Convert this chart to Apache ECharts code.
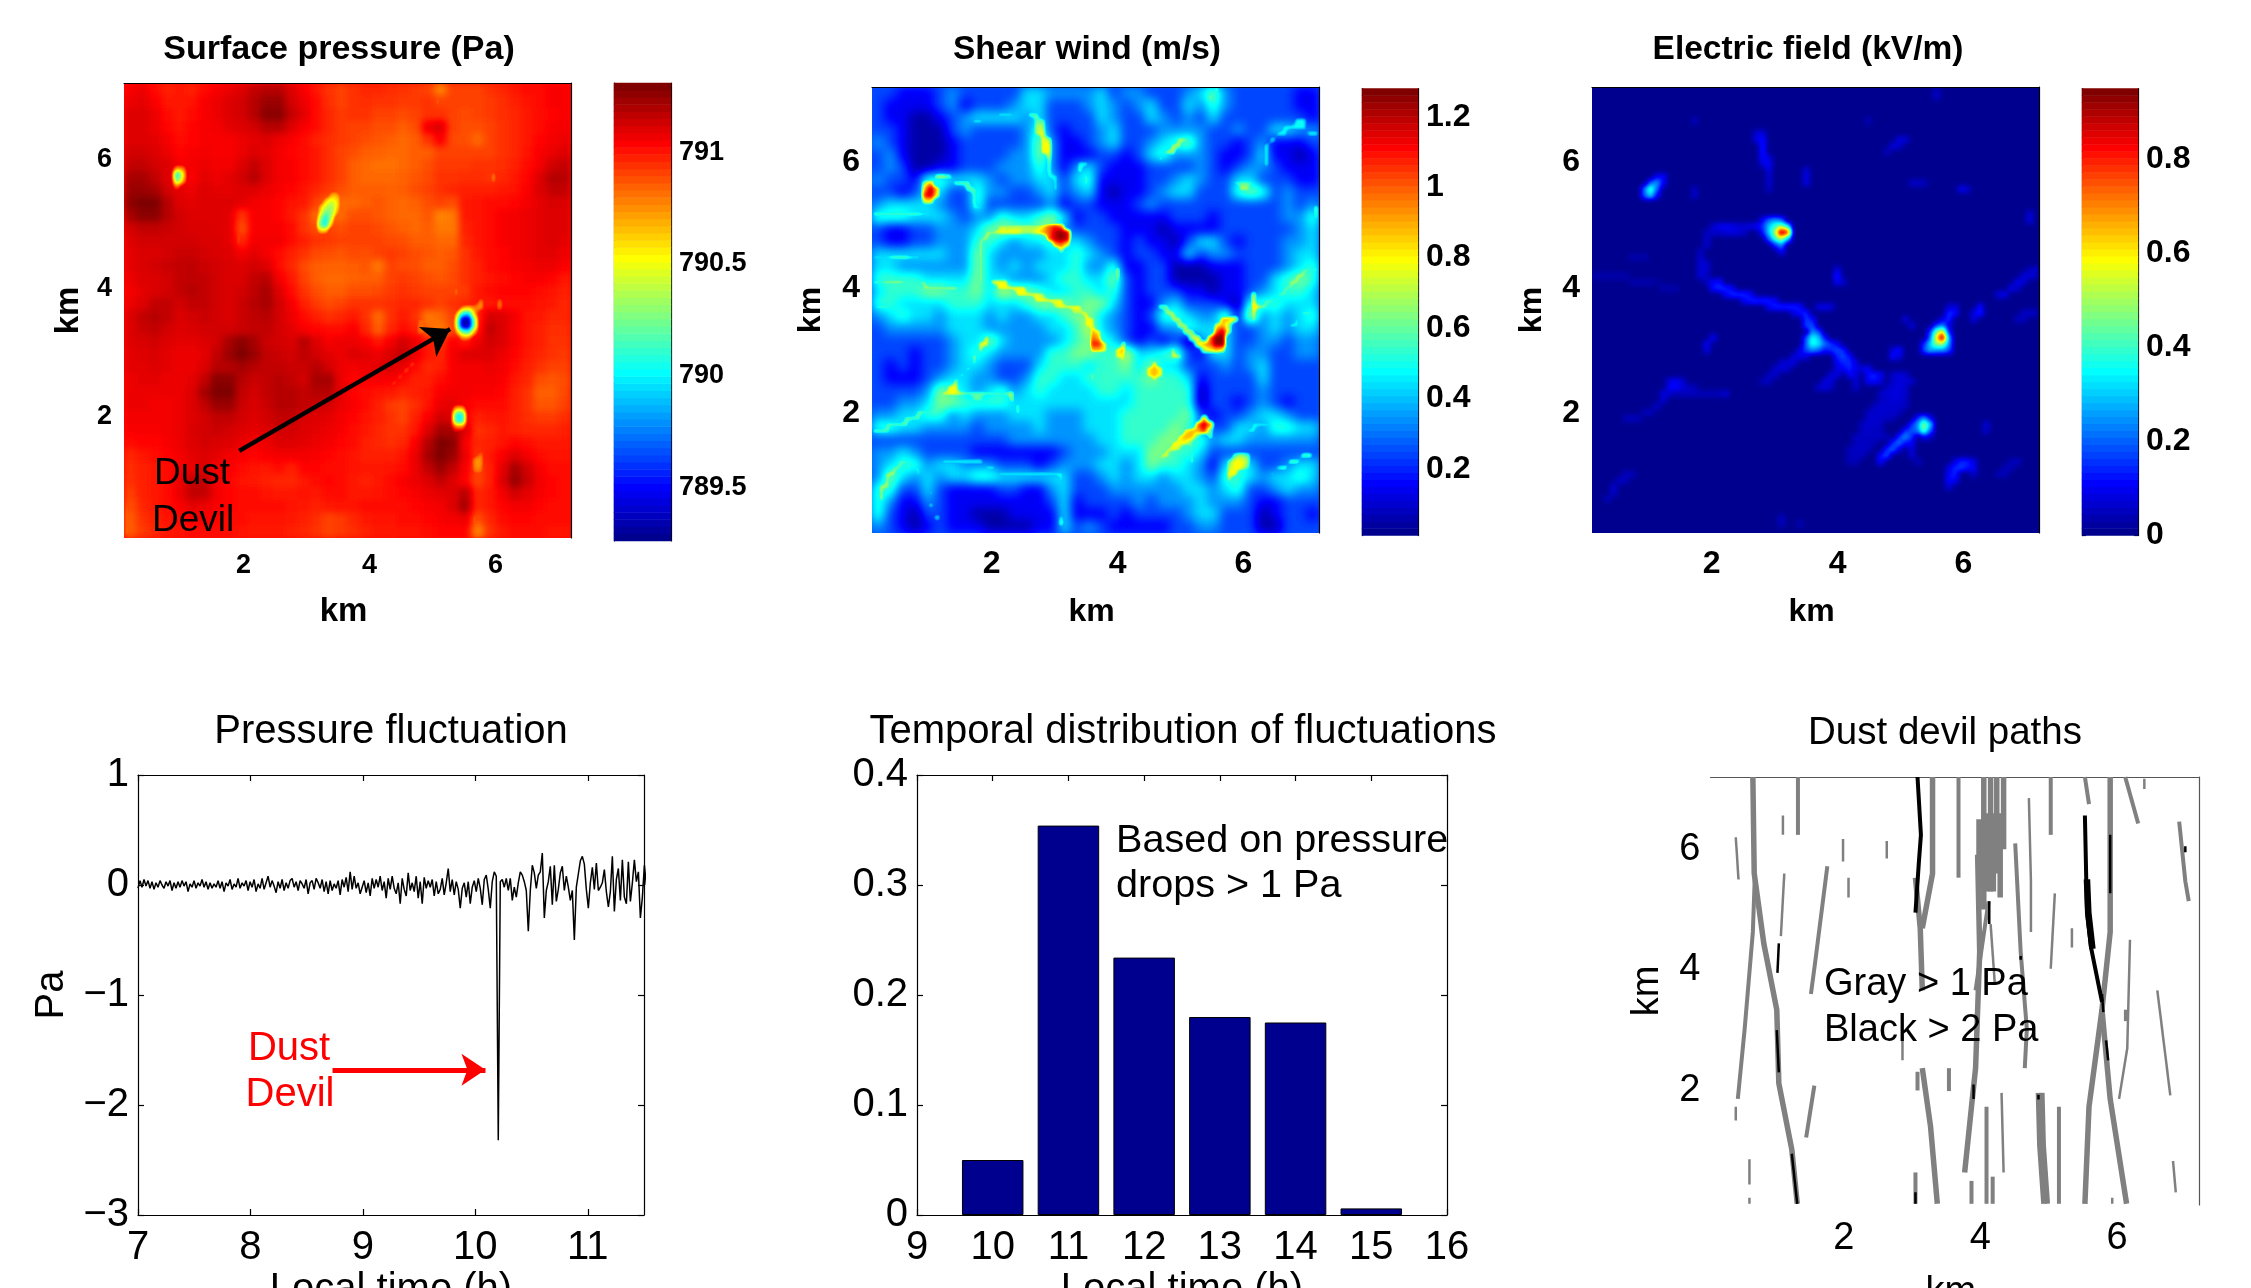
<!DOCTYPE html>
<html><head><meta charset="utf-8">
<script src="https://cdn.jsdelivr.net/npm/echarts@6/dist/echarts.min.js"></script>
<style>html,body{margin:0;background:#fff;overflow:hidden}#main{position:absolute;left:0;top:0;width:2251px;height:1288px;z-index:2}.w{position:absolute;overflow:hidden;z-index:1}.h{position:absolute}</style>
</head><body>
<svg id="fx" width="0" height="0" style="position:absolute"></svg>
<div id="main"></div>
<script>
// Surface pressure, relative readings about pressureBase (scale pressureScale Pa per unit), top row first (36 x 36)
const pressureBase = 791.03, pressureScale = 0.014;
const pressureOffset = [
[2,4,0,-3,-2,-3,0,2,4,6,10,12,12,6,2,-2,-6,-8,-6,-4,-4,-5,-6,-7,-8,-18,-8,-8,-8,-6,-4,-2,0,0,2,2],
[4,5,2,-2,-2,-1,2,4,6,8,12,16,16,8,4,0,-5,-8,-6,-5,-6,-6,-7,-7,-6,-8,-8,-8,-8,-7,-5,-3,-1,0,2,2],
[6,6,4,0,-2,0,2,4,6,8,12,18,18,10,5,0,-4,-7,-6,-6,-8,-8,-9,-8,-6,-6,-8,-9,-8,-7,-5,-4,-2,0,1,2],
[6,6,4,1,-1,1,2,3,5,6,8,12,12,6,2,0,-4,-7,-8,-8,-10,-10,-12,-10,4,6,-8,-10,-10,-8,-6,-4,-2,0,2,3],
[6,6,5,3,0,1,2,2,2,4,5,6,4,2,0,-3,-5,-7,-8,-10,-11,-12,-14,-12,-6,2,-9,-10,-14,-8,-6,-4,-2,1,3,4],
[8,8,6,4,1,2,3,2,2,4,6,5,3,1,0,-2,-5,-8,-10,-12,-13,-14,-14,-12,-12,-8,-8,-8,-8,-8,-6,-4,-1,2,4,6],
[10,10,8,6,3,3,4,3,3,6,10,6,3,2,0,-2,-5,-8,-12,-14,-15,-15,-14,-12,-10,-7,-7,-7,-6,-6,-5,-3,0,3,8,10],
[14,14,10,6,4,2,5,4,5,8,12,6,3,2,0,-2,-5,-8,-12,-14,-14,-14,-13,-11,-9,-6,-6,-5,-5,-6,-4,-2,1,6,12,12],
[16,16,14,8,5,4,6,5,5,6,6,4,2,1,-1,-4,-7,-10,-12,-12,-12,-13,-12,-10,-8,-6,-4,-3,-3,-3,-2,-1,2,6,10,10],
[18,22,20,12,6,5,6,6,6,5,3,2,1,-1,-2,-8,-14,-14,-14,-12,-11,-13,-14,-13,-10,-8,-10,-2,-1,0,0,1,3,5,7,7],
[14,18,18,12,8,6,6,6,5,-6,2,2,1,-2,-6,-14,-14,-14,-10,-10,-11,-13,-14,-14,-11,-18,-16,-2,-1,0,2,3,4,5,6,6],
[8,10,10,9,8,7,7,6,5,-10,2,2,2,0,-6,-10,-8,-10,-8,-8,-9,-11,-13,-14,-12,-16,-16,-3,-1,0,2,3,4,5,6,6],
[6,8,8,8,8,8,7,7,5,-4,3,3,3,0,-3,-6,-7,-8,-8,-8,-8,-9,-10,-12,-12,-14,-14,-4,-1,0,2,3,4,5,6,5],
[5,7,7,8,9,9,8,7,6,3,5,3,0,-3,-6,-9,-10,-11,-9,-10,-8,-7,-8,-10,-11,-12,-11,-6,-2,0,1,3,4,5,5,4],
[5,7,8,9,10,11,9,8,7,6,8,6,0,-4,-9,-12,-13,-13,-12,-11,-16,-8,-9,-10,-12,-12,-10,-6,-3,0,1,2,3,4,4,2],
[4,6,7,8,10,11,10,8,7,7,10,12,3,-2,-8,-12,-14,-14,-13,-12,-12,-8,-7,-8,-10,-11,-9,-6,-3,-1,0,1,2,2,1,-2],
[3,5,7,8,10,12,10,8,7,8,11,14,6,0,-6,-10,-12,-12,-10,-10,-9,-7,-6,-7,-8,-8,-8,-7,-2,0,1,1,1,0,-1,-3],
[4,6,10,10,8,10,10,8,7,9,12,14,8,3,-3,-7,-9,-8,-6,-6,-6,-5,-4,-4,-6,-8,-6,-4,-2,-2,0,0,0,-1,-2,-4],
[6,10,12,10,7,8,9,8,7,9,11,12,8,4,0,-3,-5,-4,-2,-6,-14,-6,-2,-6,-16,-14,-8,-6,-4,8,6,3,-1,-2,-4,-4],
[6,9,10,8,6,7,8,8,8,9,10,10,8,5,2,1,0,0,2,-4,-12,-4,0,-3,-14,-16,-10,-6,-2,10,6,2,-1,-3,-5,-5],
[6,7,8,6,5,5,6,8,14,18,14,9,8,7,12,6,3,4,4,2,-2,3,8,4,-2,-6,2,-2,4,8,6,2,-1,-3,-6,-6],
[5,6,7,5,4,4,5,10,16,20,16,10,9,8,11,8,5,4,6,5,4,7,10,4,-2,-4,3,6,6,6,4,1,-2,-4,-6,-7],
[5,5,6,5,4,4,6,12,12,14,12,10,10,9,9,12,8,4,3,4,5,6,4,0,-4,-3,2,3,3,4,3,0,-3,-6,-8,-8],
[4,5,5,4,4,5,10,18,18,12,9,10,12,10,8,14,14,4,1,2,2,2,0,-3,-3,0,2,3,3,3,2,-2,-4,-10,-11,-10],
[4,4,4,4,4,6,14,22,20,10,8,10,12,12,10,12,12,5,1,0,-1,-2,-4,-3,-2,2,3,3,2,2,1,-3,-6,-12,-12,-9],
[4,4,3,3,4,6,10,16,16,9,7,9,12,12,10,9,8,4,2,0,-3,-7,-8,-5,-1,4,5,2,0,0,0,-3,-6,-11,-11,-8],
[3,3,3,3,4,6,8,10,10,8,6,8,10,10,7,6,5,3,1,-1,-3,-6,-8,-3,2,8,6,2,-3,-2,-1,-3,-5,-7,-7,-5],
[2,2,2,3,4,7,8,9,8,6,5,6,8,8,6,5,4,2,0,-2,-4,-6,-6,-2,6,14,14,6,-6,-4,-2,-3,-4,-4,-4,-3],
[0,1,1,2,4,6,8,7,6,4,3,4,6,6,5,4,3,1,0,-3,-4,-5,-4,2,12,22,18,2,-4,-3,-1,1,0,-2,-2,-2],
[-4,-2,0,1,3,5,6,5,3,2,1,2,3,3,3,2,1,0,-1,-3,-3,-3,-1,4,14,24,16,4,-6,-2,2,6,3,0,-1,-1],
[-5,-3,-2,0,2,4,6,3,2,0,-1,-2,0,-3,1,1,0,0,-1,-2,-2,-1,0,4,10,16,10,2,-8,-3,5,14,8,2,0,0],
[-6,-3,-2,0,4,10,10,3,1,-1,-2,-3,-4,-4,-2,0,1,0,-2,-3,-2,0,2,4,6,10,6,1,-8,-3,6,16,9,3,1,0],
[-8,-3,-2,0,4,10,10,3,1,0,0,-1,-2,-2,-1,-2,0,0,-2,-2,-1,0,1,2,4,5,6,12,-4,-2,3,8,5,2,1,0],
[-10,-4,-2,0,2,5,4,2,1,0,0,0,0,-1,-2,-3,-2,-1,-1,0,0,0,0,1,2,3,6,14,-4,-2,1,3,3,1,0,0],
[-12,-6,-3,-1,0,2,2,1,0,0,-1,-1,-1,-2,-3,-5,-8,-7,-4,-2,-1,-1,0,0,1,2,3,4,-10,-4,0,1,1,0,0,0],
[-12,-7,-4,-2,-1,0,0,0,0,-1,-2,-2,-2,-3,-4,-6,-8,-7,-5,-3,-2,-2,-1,-1,0,1,1,1,-18,-6,-2,0,0,0,-1,-1]
];
// Small low-pressure spots and bright streaks, hundredths of a Pa relative to 791 Pa, 72 x 72 grid: [row, firstColumn, values...]
const pressureRuns = [
[2,50,-24],[3,50,-20],[8,48,-20],[9,47,-20],[9,57,-16],[10,46,-22],[10,57,-14],[11,45,-22],[12,44,-22],[13,43,-20],[13,8,-25,-20],[14,8,-110,-50],[15,8,-85,-35],[16,8,-15],[14,59,-28],[15,59,-26],
[17,33,-28,-24],[18,32,-35,-50,-40],[19,31,-25,-55,-70,-40],[20,31,-35,-80,-70,-25],[21,31,-60,-105,-55],[22,31,-75,-105,-25],[23,31,-35,-35],
[19,52,-24],[20,52,-26],[21,51,-24,-24],[22,51,-24],[23,51,-22],[24,50,-20,-20],[23,18,-14],[24,18,-14],[25,18,-12],
[32,53,-24],[33,53,-26],[34,57,-28],[34,60,-24],[35,57,-30],[35,60,-26],
[35,54,-20,-30,-20],[36,53,-20,-90,-110,-30],[37,53,-40,-165,-190,-70],[38,53,-40,-165,-190,-70],[39,53,-20,-70,-90,-25],[40,54,-20,-15],
[36,48,-14,-14],[37,47,-16,-16],[38,47,-18,-16],[39,47,-18,-16],[44,46,-18],[45,45,-18],[46,44,-16],[47,43,-16],[48,42,-14],
[51,53,-30,-30],[52,53,-95,-100],[53,53,-95,-100],[54,53,-15,-15],
[58,57,-18],[59,56,-24,-26],[60,56,-26,-26],[61,56,-20,-20],
[66,0,-20],[67,0,-22],[68,0,-24],[69,0,-24],[70,0,-24],[71,0,-24],
[68,56,-20],[69,56,-22],[70,56,-22],[71,56,-22]
];
// Shear wind, tenths of m/s, top row first (36 x 36)
const windTenths = [
[3,3,2,2,2,3,4,3,3,3,3,3,5,5,4,4,4,4,5,3,4,4,3,3,3,4,5,7,4,3,3,3,3,3,2,2],
[3,2,2,2,2,3,4,2,3,3,3,4,5,5,3,3,3,4,5,4,3,4,5,3,3,5,4,6,4,3,3,3,3,3,2,2],
[3,2,2,1,1,2,3,4,5,5,5,5,4,5,3,3,3,3,5,4,3,3,5,4,3,4,3,5,3,3,3,3,3,3,3,2],
[3,3,2,1,1,1,3,4,3,3,3,3,4,6,3,2,3,3,4,5,3,3,3,4,4,4,4,3,3,4,3,3,5,5,4,4],
[4,3,2,1,1,1,2,3,3,3,3,3,4,7,4,2,2,3,4,5,3,3,4,5,6,7,4,3,3,2,3,4,2,2,2,3],
[3,4,2,1,1,1,2,3,3,3,3,4,4,7,4,2,2,2,3,3,2,3,5,6,4,4,4,3,2,2,3,5,2,2,1,2],
[3,4,3,1,1,2,2,3,3,3,4,4,4,6,4,2,4,5,3,2,2,2,3,3,3,3,4,3,2,3,4,4,3,2,2,2],
[4,3,3,2,6,6,5,5,5,4,3,4,4,5,5,3,5,6,2,2,2,2,3,3,4,5,4,3,3,5,5,3,3,3,2,2],
[3,3,2,3,5,5,3,3,6,4,4,3,3,4,5,3,4,5,2,1,2,2,3,4,5,5,3,3,3,6,7,6,3,4,3,3],
[4,5,5,5,5,4,3,3,6,3,3,3,3,3,4,2,3,3,2,2,2,3,4,3,3,3,3,3,3,3,3,3,3,4,3,4],
[6,6,6,5,5,5,4,3,4,4,6,5,5,6,7,5,2,3,3,2,2,2,2,2,3,3,3,2,3,3,3,3,3,4,4,6],
[3,2,2,3,3,4,4,4,5,7,7,7,6,7,7,4,3,3,3,3,2,2,2,1,2,2,2,2,3,3,3,3,3,3,4,5],
[3,2,2,3,3,4,4,4,6,6,5,4,5,5,6,5,5,4,3,3,2,3,2,2,1,3,5,5,3,2,3,3,3,4,4,5],
[5,5,5,5,5,5,4,4,7,5,4,4,4,4,5,5,6,5,4,3,2,3,3,2,2,5,3,4,4,3,3,3,3,4,5,5],
[5,5,4,4,4,4,4,4,7,5,4,5,4,5,5,5,6,4,4,6,2,2,3,3,1,1,1,2,2,2,3,3,3,4,5,6],
[6,6,6,6,5,5,5,5,7,5,5,4,4,4,5,6,6,5,5,7,3,2,3,3,1,1,1,1,2,2,3,3,5,6,7,6],
[5,6,6,6,7,7,6,6,7,5,8,7,7,6,5,5,6,6,5,6,3,2,3,3,3,2,2,1,2,2,3,4,5,6,6,5],
[6,6,5,5,5,5,6,6,6,5,5,5,6,7,7,7,6,7,7,5,3,2,2,4,5,3,3,3,2,1,6,6,6,5,5,5],
[4,5,6,5,5,4,5,5,5,4,5,4,4,5,5,6,7,7,5,4,3,2,3,6,6,5,4,4,7,2,8,4,5,4,5,6],
[3,4,4,4,4,4,5,5,5,4,4,4,4,4,5,5,6,8,5,4,3,2,2,4,4,6,5,5,5,3,3,4,5,4,5,5],
[3,3,3,3,3,3,4,5,5,7,5,4,4,4,4,5,6,7,6,5,3,2,3,2,3,1,4,5,5,3,3,4,4,3,4,4],
[3,3,3,2,3,3,4,5,6,5,4,4,4,4,6,6,7,7,6,6,8,5,5,6,7,3,2,5,5,3,4,4,3,3,4,4],
[3,2,3,2,3,3,4,5,5,4,3,3,3,5,6,6,6,5,6,6,7,5,7,5,5,3,3,3,4,3,4,5,3,3,3,3],
[3,2,2,2,3,4,5,5,4,4,3,3,4,6,6,5,5,6,6,6,6,6,7,6,6,5,2,3,3,3,3,5,3,3,3,3],
[3,3,3,3,4,7,6,5,4,5,6,4,5,6,5,5,5,5,6,6,5,6,6,6,6,6,1,3,3,3,3,4,3,3,3,3],
[3,3,4,4,5,7,7,6,6,6,6,5,5,5,5,5,5,5,5,5,5,6,6,6,6,6,1,3,3,2,3,4,3,2,3,3],
[4,4,5,5,6,6,4,5,4,4,4,5,5,5,4,4,4,5,5,5,6,6,6,6,6,7,3,2,3,3,4,5,5,4,3,3],
[6,6,5,5,4,4,4,4,3,4,4,4,4,5,4,4,4,5,5,5,6,6,6,6,7,6,4,3,3,5,5,4,6,6,5,5],
[3,3,3,3,3,3,3,3,3,3,3,4,4,4,4,4,4,4,5,5,6,6,6,7,7,6,6,4,5,5,4,4,4,4,4,4],
[4,4,5,4,3,3,3,3,2,2,2,2,2,2,2,3,4,4,4,5,5,5,7,7,6,6,5,3,3,3,3,3,3,3,3,3],
[4,5,6,6,4,5,5,4,4,4,3,3,3,2,3,4,4,4,5,5,4,5,7,6,6,5,4,2,5,6,5,3,3,4,5,5],
[4,7,5,4,5,4,5,5,6,6,5,5,5,5,5,5,3,3,4,5,4,5,5,4,5,5,4,3,6,6,5,4,5,5,6,5],
[6,6,3,3,5,3,2,2,2,2,3,3,2,2,4,5,3,3,3,4,4,4,4,4,4,5,5,4,5,6,3,3,4,5,4,4],
[6,4,2,2,4,3,2,2,2,2,2,2,2,2,3,5,2,3,3,3,3,4,3,4,4,4,5,4,4,4,3,2,2,3,3,3],
[6,3,2,1,3,3,2,2,1,1,1,2,2,2,2,5,2,2,2,3,2,3,3,3,3,4,5,5,3,3,3,1,2,3,3,2],
[4,3,2,1,2,3,2,2,2,1,1,1,1,2,2,5,3,4,3,2,2,2,2,2,3,3,4,4,3,3,3,1,1,3,3,3]
];
const windBaseShift = -0.06;
// Shear wind filaments and hot spots, tenths of m/s, 72 x 72 grid: [row, firstColumn, values...]
const windRuns = [
[0,55,7],[1,54,7],[2,54,6],[2,25,5,5],[4,25,6,6],[4,20,5,5,5],[5,16,5,5],[5,26,6,6],[5,68,5,5],[6,26,7,7],[6,66,5,5,5,5],[7,26,7,8],[7,65,5,5],[7,70,5,5],[8,27,8,7],[8,49,7,7],[8,64,5],[9,27,8,8],[9,48,7,7],[9,63,5],[10,27,8,8],[10,47,7,7],[10,63,5],[11,28,7],[11,46,6],[11,63,5],[12,28,6],[12,33,5,5],[12,63,5],[13,28,6],[13,33,6],[14,28,5,5],[14,34,6],[14,10,7,7,6],[15,29,5],[15,34,6],[15,13,6,6,6],[15,8,7,9],[15,58,5,6,6,5],[16,29,5],[16,15,6,6],[16,8,9,12,9],[16,59,7,7],[17,8,11,12,8],[17,16,6],[18,8,8,8],[18,16,6],[19,16,5,5],[19,71,6],[20,0,6,6,6,6,6,6,6,6,5,5],[20,71,6],[21,71,5],
[22,20,7,7,7,7,7,7,7,8,10,11,10],[23,18,7,7,8,8,8,8,7,7,8,9,10,12,13,12],[24,17,6,7],[24,28,10,12,13,12],[25,17,7],[25,29,9,10,8],[26,17,7],[26,30,7],[27,17,7],[27,0,5,5,5,6,6,6,5,5],[28,17,7],[29,17,7],[29,39,7],[29,69,6,6,6],[30,17,7],[30,39,7],[30,68,7,7],[31,0,6,6,7,7,7,6,6,6,6],[31,17,7],[31,19,8,8,8],[31,39,6],[31,67,7,7],[32,8,7,7,7,7,7,7],[32,20,8,8,8,8,8],[32,66,6,6],[33,23,8,8,8,8,7],[33,61,7],[33,65,6,6],[34,26,8,8,8,8,8],[34,61,8],[34,63,6,6],[35,0,5,6,6,5],[35,29,7,8,8,8,8],[35,46,6,6],[35,61,9,7,6],[36,32,7,7,8],[36,47,7,7],[36,61,8],[36,69,6,6],[37,34,8,8],[37,48,7,7],[37,56,9,9,8],[37,61,7],[37,68,5],[38,34,8,8],[38,49,7,7],[38,55,8,9,7],[38,67,5,5],[39,35,9,8],[39,50,7,7],[39,55,10,12,7],[40,35,10,9],[40,18,8],[40,51,7,8],[40,54,10,13,13],[41,17,8,8],[41,35,11,11,8],[41,40,7],[41,52,8,9,10,13,13],[42,17,7],[42,35,9,9,8],[42,39,8,9],[42,48,7],[42,53,7,8,9,8],[43,16,7],[43,39,8,8],[43,48,8,7],[44,16,6],[44,37,7],[44,40,7],[44,45,8],[45,15,6],[45,36,7],[45,44,8,9,8],[46,14,6],[46,35,7],[46,41,7],[46,44,8,9,8],[47,13,7],[47,35,6],[47,45,7],[48,12,8,8],[48,34,6],[48,41,6],[49,11,8,8,8,7,6,6,6,6,6,6,6,7],[50,16,6,6],[50,22,7],[51,10,6,7],[51,23,6],[52,7,6,6,6,6],[52,23,6],[53,5,6,6,6],[53,53,9],[54,2,6,6,6,6],[54,52,10,12,10],[54,61,5,5,5,5,5],[55,0,6,6,6],[55,50,8,9,9,11,6],[55,60,5,5],[56,49,8,9,9,6],[56,54,6],[57,48,8,8,8,6],[58,47,7,8,7],[58,51,6],[59,46,7,8],[59,51,6],[59,58,6,7,6],[59,69,6,6],[60,46,6],[60,51,6],[60,57,6,8,8,7],[60,67,6,6],[60,4,6,6,5],[60,11,5,5,5,5,5,5,5],[61,3,6,6],[61,6,5,5],[61,18,5,5],[61,57,7,8,8,6],[61,65,5,6],[62,2,7,7],[62,7,5],[62,20,5,5,5,5,5,5,5,5,5,5,5],[62,57,8,8],[62,64,5],[63,2,7],[63,8,5],[63,30,5],[63,57,7],[64,1,7,7],[65,1,7],[65,9,5],[65,30,5],[66,1,7],[67,9,5],[67,30,5],[69,10,5],[69,30,5],[70,30,6]
];
// Electric field, hundredths of kV/m, on a 72 x 72 grid: [row, firstColumn, values...]; all other cells are 0
const electricRuns = [
[0,55,5],[1,55,6],[5,16,5],[5,44,4],[7,26,7,8],[8,26,8,12],[8,49,8,7],[9,27,13],[9,48,8,6],[10,27,13],[10,47,5],[11,27,12,8],[12,27,7,10],[13,28,8],[13,34,7],[14,28,6],[14,34,9],[14,10,10,11],[15,28,6],[15,34,8],[15,51,5,6,5],[15,9,20,26,10],[16,28,5],[16,8,22,42,20],[16,16,5],[16,59,10,6],[17,8,20,32,10],[17,16,6],
[20,70,7],[21,70,8],[21,27,10,20,25,20],[22,19,6,9,10,9,7,7,8,10,15,30,40,50,35],[23,18,5,6,6,7,8,7,6],[23,27,12,30,50,95,85],[24,18,6],[24,28,20,40,55,30],[25,18,6],[25,29,15,25],[26,17,5],[26,30,12],[27,17,6],[27,6,3,3,3],[28,17,7,6],[29,17,7,6],[29,39,8],[29,70,5,6],[30,17,7,5],[30,39,14],[30,69,7,7,5],[30,0,3,3,3,3,3,3],[31,18,5],[31,19,10,12],[31,39,10,6],[31,68,9,7],[31,6,3,3,3,3,2],[32,19,12,15,14,10],[32,67,8,6],[32,11,3,3,3],
[33,21,10,14,15,14,11],[33,65,8,9],[34,24,10,13,14,14,13,10],[35,28,10,13,14,14,14,12],[35,36,8,9,8],[35,57,6,8],[35,62,12],[36,32,8,12,14],[36,57,15,12],[36,61,8,14],[36,69,5,6,5],[37,34,16,12],[37,50,7],[37,56,8,15],[37,61,8],[37,68,5,5],[38,34,17,18],[38,51,7],[38,55,15,22,8],[39,35,24,18],[39,54,15,45,60,12],[40,34,18,36,30,12],[40,19,10],[40,54,20,60,95,25],[41,18,10],[41,34,20,38,34,22,16,10],[41,53,15,30,50,50,25],[42,18,8],[42,33,8,18,24,20,12,14,18,14],[42,48,8,12],[42,53,18,28,25,25,18],
[43,32,7,9,8],[43,39,14,18,12],[43,48,12,8],[44,30,6,7,8],[44,39,10,14,15,8],[45,29,6,7,6],[45,39,8,10,14,8,8,10],[46,28,5,6],[46,38,7,8],[46,41,10,8],[46,44,12,14,10],[46,48,6,8,6],[47,27,5,5],[47,37,7,8],[47,42,7],[47,44,10,12,8],[47,48,6,7,7,6],[47,12,8,10,7],[48,36,6,8,5],[48,42,6],[48,47,5,7,8,6],[48,12,10,12,8,5,4],[49,11,8,6,4,4,5,5,4,4,4,4,7],[49,46,5,7,7,7,6],[50,11,7],[50,46,5,6,7,7,5],[51,10,6],[51,45,5,6,6,6,6,5],[52,8,4,5],[52,44,5,6,6,6,6,5],[53,5,4,5,4],[53,44,6,6,6,5,4],[53,52,15,25,10],[54,43,5,6,6,5],[54,51,15,25,50,30],[54,63,7],[55,43,5,6,5,5],[55,50,15,18,22,45,20],[55,63,6],[56,42,5,5,5,5,5,4],[56,49,15,25,15],[56,53,10,6],[57,42,5,5,5,4],[57,48,15,22,12,10],[58,41,4,5,5,5],[58,47,15,20,8],[58,51,8],[59,41,4,5,5],[59,46,12,18],[59,51,7],[60,46,12],[60,52,5],[60,41,4,4],[60,58,8,14,14,8],[60,67,4,5],[61,57,8,14,16,12,10],[61,66,4,4],[62,5,5,4],[62,57,10,14],[62,61,6],[62,65,4,4],[63,4,6,4],[63,57,12,10],[64,3,6],[64,57,8],[65,3,6],[66,2,5],[69,30,5],[70,30,5],[70,33,4]
];
const pressureRange = [789.26, 791.31];
const windRange = [0.01, 1.28];
const fieldRange = [0, 0.95];
const pressureTicks = [789.5, 790, 790.5, 791];
const windTicks = [0.2, 0.4, 0.6, 0.8, 1, 1.2];
const fieldTicks = [0, 0.2, 0.4, 0.6, 0.8];
const kmTicks = [2, 4, 6];
const kmRange = [0.1, 7.2];

// Pressure fluctuation trace, hundredths of a Pa, one reading every 0.0178 h from 7 h
const traceStart = 7, traceStep = 0.0178;
const traceHundredths = [
-3,4,-2,5,-1,4,-3,3,-4,2,-2,4,0,-3,3,-1,4,-5,2,-3,3,-2,4,-1,3,-6,1,-2,4,-3,2,-1,5,-2,3,-4,2,-3,1,-2,4,-3,3,-6,2,-1,5,-4,1,-2,6,-3,2,-1,4,-5,3,-2,5,-6,1,-3,6,-4,2,8,-2,4,-1,-7,3,-3,5,-5,2,-3,4,6,-2,3,-5,4,1,-3,5,-8,2,4,-4,6,
2,-3,5,-6,3,-8,4,-5,1,-3,4,-9,5,-2,7,-6,12,-4,8,-3,2,-8,-2,4,-7,2,-10,6,-3,5,-2,8,-5,3,-12,6,-4,8,-3,-8,2,-17,6,-4,-10,11,-5,2,-6,8,-12,3,-17,7,-3,4,-2,5,-10,3,-8,-4,6,-9,2,15,-6,5,-9,3,-4,-21,-3,2,-11,3,-17,-2,4,-6,6,-3,-18,5,9,-4,-21,3,12,8,
-232,3,5,-2,6,-5,6,-14,-2,-11,2,12,9,3,-5,-42,-5,18,11,-3,9,12,29,-30,-5,3,17,-18,18,-15,-4,11,17,-5,8,-2,-14,-5,-50,-2,10,22,26,19,-4,-21,2,16,-4,20,-5,-2,2,14,-6,-20,-6,26,-24,5,15,-14,23,-11,-17,21,-15,2,23,3,12,-30,-11,18,0
];
const barHours = [10, 11, 12, 13, 14, 15];
const barShares = [0.05, 0.354, 0.234, 0.18, 0.175, 0.006];

// Dust devil paths as [km, km] polylines, grouped by stroke class
const grayThin = [
[[.42,6.2],[.46,5.5]],[[1.11,6.56],[1.11,6.24]],[[1.13,5.6],[1.08,4.56]],[[.42,1.73],[.42,1.5]],[[.62,.86],[.62,.44]],[[.62,.22],[.62,.12]],[[1.99,6.17],[1.99,5.8]],[[2.07,5.53],[2.07,5.2]],[[2.63,6.14],[2.63,5.85]],
[[2.86,2.89],[2.86,2.5]],[[4.15,4.76],[4.21,3.79]],[[5.09,5.27],[5.03,4.02]],[[4.31,1.96],[4.34,.64]],[[5.34,4.69],[5.34,4.37]],[[6.19,4.5],[6.15,2.7],[6.03,1.86]],[[6.4,7.17],[6.4,7]],[[6.59,3.66],[6.78,1.92]],[[6.82,.83],[6.86,.31]],[[5.93,.22],[5.93,.12]],[[4.71,6.85],[4.74,5.47],[4.74,4.63]]
];
const grayMid = [
[[.45,1.86],[.55,3.02],[.67,4.63],[.7,5.6]],[[1.33,7.2],[1.33,6.24]],[[1.76,5.72],[1.58,4.11],[1.52,3.6]],[[1.57,2.08],[1.45,1.22]],[[3.08,2.31],[3.08,2]],[[3.05,.64],[3.05,.12]],[[3.54,2.37],[3.54,1.99]],[[3.68,7.2],[3.68,5.53]],
[[4.12,5.14],[3.93,3.66]],[[4.51,6.1],[4.59,4.3],[4.68,3.02],[4.65,2.37]],[[5.03,7.2],[5.03,6.24]],[[5.15,1.73],[5.15,.12]],[[4.09,1.73],[4.09,.12]],[[4.18,.57],[4.18,.12]],[[3.87,.5],[3.87,.12]],[[5.53,7.2],[5.59,6.75]],[[6.12,7.2],[6.31,6.43]],[[6.91,6.46],[7,5.47],[7.05,5.14]],[[6.13,3.34],[6.13,3.15]]
];
const grayThick = [
[[.67,7.2],[.69,5.6],[.83,4.44],[1.02,3.34],[1.05,2.12],[1.24,1.02],[1.32,.12]],[[3.05,5.53],[3.12,4.69],[3.15,3.66]],[[3.3,7.2],[3.3,5.6],[3.15,4.69]],[[3.15,2.37],[3.27,1.41],[3.37,.12]],
[[4.05,7.2],[4.05,5]],[[4.15,7.2],[4.15,5.3]],[[4.24,7.2],[4.24,5.6]],[[4.34,7.2],[4.34,6]],[[3.98,6.5],[3.98,5.4]],[[4.1,6.6],[4.1,5.3]],[[4.19,6.6],[4.19,5.3]],[[4.29,6.6],[4.29,5.2]],[[3.96,5.91],[3.99,4.3],[3.93,2.37],[3.87,1.73],[3.77,.64]],
[[4.85,1.96],[4.87,1.09],[4.93,.12]],[[4.9,1.96],[4.92,1.09],[4.98,.12]],[[5.9,7.2],[5.9,4.63],[5.78,3.34],[5.59,1.73],[5.53,.12]],[[5.78,3.34],[5.9,1.86],[6.14,.12]]
];
const blackThin = [
[[1.05,4.44],[1.03,3.95]],[[1.02,3],[1.05,2.3]],[[1.24,.95],[1.32,.12]],[[3.05,.31],[3.05,.12]],[[4.13,5.14],[4.13,4.76]],[[3.9,2.1],[3.9,1.86]],[[4.85,1.93],[4.85,1.85]],[[4.59,4.23],[4.59,4.17]],[[5.84,2.83],[5.87,2.5]],[[5.9,6.24],[5.9,5.27]],[[7,6.05],[7,5.95]],[[5.78,3.6],[5.8,3.3]]
];
const blackMid = [[[3.08,7.2],[3.13,6.24],[3.1,5.79],[3.05,4.95]],[[5.53,6.56],[5.56,4.95],[5.62,4.37],[5.78,3.47]]];
const blackThick = [[[5.56,5.5],[5.58,4.95],[5.64,4.35]]];
const strokeWidths = {grayThin: 2.5, grayMid: 4, grayThick: 5.5, blackThin: 2.5, blackMid: 4, blackThick: 6.5};

const F = 'Liberation Sans';
const jet = [];
for (let i = 0; i < 64; i++) {
  const t = (i + 1) / 64, c = v => Math.max(0, Math.min(1, v));
  jet.push([c(Math.min(4*t-1.5, -4*t+4.5)), c(Math.min(4*t-0.5, -4*t+3.5)), c(Math.min(4*t+0.5, -4*t+2.5))]);
}
const jetHex = jet.map(c => '#' + c.map(v => Math.round(v*255).toString(16).padStart(2,'0')).join(''));

// Fields are drawn by ECharts in grey levels, smoothed with CSS blur, then coloured through the jet table
const tbl = k => jet.map(c => c[k].toFixed(4)).join(' ');
document.getElementById('fx').innerHTML = `<filter id="jetmap" x="0" y="0" width="100%" height="100%" color-interpolation-filters="sRGB"><feComponentTransfer><feFuncR type="table" tableValues="${tbl(0)}"/><feFuncG type="table" tableValues="${tbl(1)}"/><feFuncB type="table" tableValues="${tbl(2)}"/></feComponentTransfer></filter>`;

const P = {
  p1:[124,83,447,455], c1:[614,83,57,458], p2:[872,87,447,446], c2:[1362,88.6,56,447],
  p3:[1592,87,447,446], c3:[2082,88.6,56,447], p4:[138,775,506,440], p5:[917,775,530,440], p6:[1710.5,777,488.5,428]
};

function drawField(rect, range, layers) {
  const pad = 20, [l,t,w,h] = rect;
  const wrap = document.createElement('div'); wrap.className = 'w';
  wrap.style.cssText = `left:${l}px;top:${t}px;width:${w}px;height:${h}px`;
  const mid = document.createElement('div'); mid.className = 'h';
  mid.style.cssText = `left:${-pad}px;top:${-pad}px;width:${w+2*pad}px;height:${h+2*pad}px;filter:url(#jetmap)`;
  wrap.appendChild(mid); document.body.appendChild(wrap);
  layers.forEach(L => {
    const d = document.createElement('div'); d.className = 'h';
    d.style.cssText = `left:0;top:0;width:${w+2*pad}px;height:${h+2*pad}px;filter:blur(${L.blur}px);mix-blend-mode:${L.blend||'normal'}`;
    mid.appendChild(d);
    const g = Math.round(255*(L.bg-range[0])/(range[1]-range[0]));
    const idx = Array.from({length:L.n},(_,i)=>i);
    echarts.init(d, null, {width:w+2*pad, height:h+2*pad}).setOption({
      animation:false, backgroundColor:`rgb(${g},${g},${g})`,
      grid:{left:pad,top:pad,width:w,height:h,outerBoundsMode:'none'},
      xAxis:{type:'category',data:idx,show:false},
      yAxis:{type:'category',data:idx,show:false,inverse:true},
      visualMap:{show:false,min:range[0],max:range[1],dimension:2,inRange:{color:['#000000','#ffffff']}},
      series:[{type:'heatmap',data:L.cells,progressive:0,silent:true}]
    });
  });
}
const cellsOf=(rows,f)=>{const o=[];rows.forEach((row,j)=>row.forEach((v,i)=>o.push([i,j,f(v)])));return o;};
const cellsOfRuns=(runs,f)=>{const o=[];runs.forEach(r=>{for(let k=2;k<r.length;k++)o.push([r[1]+k-2,r[0],f(r[k])]);});return o;};
drawField(P.p1,pressureRange,[
  {n:36,blur:3.8,bg:pressureBase,cells:cellsOf(pressureOffset,v=>pressureBase+v*pressureScale)},
  {n:72,blur:2.4,bg:pressureRange[1],blend:'darken',cells:cellsOfRuns(pressureRuns,v=>791+v/100)}]);
drawField(P.p2,windRange,[
  {n:36,blur:5.5,bg:0.25,cells:cellsOf(windTenths,v=>v/10+windBaseShift)},
  {n:72,blur:2,bg:windRange[0],blend:'lighten',cells:cellsOfRuns(windRuns,v=>v/10)}]);
drawField(P.p3,fieldRange,[{n:72,blur:2.4,bg:0,cells:cellsOfRuns(electricRuns,v=>v/100)}]);

// main chart
const grids=[],xAxes=[],yAxes=[],series=[],cbSeries=[];
const addGrid=r=>{grids.push({left:r[0],top:r[1],width:r[2],height:r[3],containLabel:false,outerBoundsMode:'none'});return grids.length-1;};
const addX=o=>{xAxes.push(o);return xAxes.length-1;};
const addY=o=>{yAxes.push(o);return yAxes.length-1;};
const black={lineStyle:{color:'#000',width:1.2}};

function kmPanel(r,opt){
  const g=addGrid(r);
  const x=addX({type:'value',gridIndex:g,min:opt.xr[0],max:opt.xr[1],position:'bottom',name:'km',nameLocation:'middle',nameGap:opt.xg,
    nameTextStyle:{fontFamily:F,fontWeight:opt.bold,fontSize:opt.nf,color:'#000',padding:[0,8,0,0]},
    axisLine:{show:false},axisTick:{show:false},splitLine:{show:false},
    axisLabel:{customValues:kmTicks,fontFamily:F,fontWeight:opt.bold,fontSize:opt.lf,color:'#000',margin:opt.xm}});
  const y=addY({type:'value',gridIndex:g,min:kmRange[0],max:kmRange[1],position:'left',name:'km',nameLocation:'middle',nameGap:opt.yg,
    nameTextStyle:{fontFamily:F,fontWeight:opt.bold,fontSize:opt.nf,color:'#000'},
    axisLine:{show:false},axisTick:{show:false},splitLine:{show:false},
    axisLabel:{customValues:kmTicks,fontFamily:F,fontWeight:opt.bold,fontSize:opt.lf,color:'#000',margin:opt.ym,padding:[opt.yp||0,0,0,0]}});
  const lc=opt.frame||'#000';
  addX({type:'value',gridIndex:g,min:opt.xr[0],max:opt.xr[1],position:'top',axisLine:{show:true,onZero:false,lineStyle:{color:lc,width:1.2}},axisTick:{show:false},axisLabel:{show:false},splitLine:{show:false}});
  addY({type:'value',gridIndex:g,min:kmRange[0],max:kmRange[1],position:'right',axisLine:{show:true,onZero:false,lineStyle:{color:lc,width:1.2}},axisTick:{show:false},axisLabel:{show:false},splitLine:{show:false}});
  return {x,y};
}
function colorbar(r,range,ticks,lf,pt){
  const g=addGrid(r);
  const x=addX({type:'category',gridIndex:g,data:[0],show:false});
  const yc=addY({type:'category',gridIndex:g,data:jetHex.map((_,i)=>i),show:false});
  addY({type:'value',gridIndex:g,min:range[0],max:range[1],position:'right',splitLine:{show:false},
    axisLine:{show:true,onZero:false,...black},axisTick:{show:true,inside:true,length:4,customValues:ticks,...black},
    axisLabel:{customValues:ticks,fontFamily:F,fontWeight:'bold',fontSize:lf,color:'#000',margin:8,padding:[pt,0,0,0]}});
  addY({type:'value',gridIndex:g,min:range[0],max:range[1],position:'left',splitLine:{show:false},
    axisLine:{show:true,onZero:false,...black},axisTick:{show:true,inside:true,length:4,customValues:ticks,...black},axisLabel:{show:false}});
  series.push({type:'heatmap',xAxisIndex:x,yAxisIndex:yc,data:jetHex.map((_,i)=>[0,i,i]),progressive:0,silent:true});
  cbSeries.push(series.length-1);
}
function boxPanel(r,xo,yo){
  const g=addGrid(r);
  const ax=(o,extra)=>Object.assign({type:'value',gridIndex:g,splitLine:{show:false},
    axisLine:{show:true,onZero:false,...black}},o,extra);
  const x=addX(ax(xo,{position:'bottom',axisTick:{show:true,inside:true,length:6,customValues:xo.axisLabel.customValues,...black}}));
  const y=addY(ax(yo,{position:'left',axisTick:{show:true,inside:true,length:6,...black}}));
  addX(ax({min:xo.min,max:xo.max,interval:xo.interval},{position:'top',axisTick:{show:true,inside:true,length:6,customValues:xo.axisLabel.customValues,...black},axisLabel:{show:false}}));
  addY(ax({min:yo.min,max:yo.max,interval:yo.interval},{position:'right',axisTick:{show:true,inside:true,length:6,...black},axisLabel:{show:false}}));
  return {x,y};
}

const a1=kmPanel(P.p1,{xr:kmRange,bold:'bold',nf:33,lf:27,xg:57,yg:39,xm:14,ym:12,yp:3});
colorbar(P.c1,pressureRange,pressureTicks,27,1);
kmPanel(P.p2,{xr:kmRange,bold:'bold',nf:32,lf:32,xg:63,yg:45,xm:15,ym:12,yp:5});
colorbar(P.c2,windRange,windTicks,32,4);
kmPanel(P.p3,{xr:kmRange,bold:'bold',nf:32,lf:32,xg:63,yg:44,xm:15,ym:12,yp:5});
colorbar(P.c3,fieldRange,fieldTicks,32,4);

const tf={fontFamily:F,fontSize:40,color:'#000'};
const a4=boxPanel(P.p4,
  {min:7,max:11.5,interval:1,name:'Local time (h)',nameLocation:'middle',nameGap:55,nameTextStyle:tf,axisLabel:{...tf,margin:13,customValues:[7,8,9,10,11]}},
  {min:-3,max:1,interval:1,name:'Pa',nameLocation:'middle',nameGap:66,nameTextStyle:tf,axisLabel:{...tf,margin:9,padding:[6,0,0,0],formatter:v=>v<0?'\u2212'+(-v):String(v)}});
const a5=boxPanel(P.p5,
  {min:9,max:16,interval:1,name:'Local time (h)',nameLocation:'middle',nameGap:55,nameTextStyle:tf,axisLabel:{...tf,margin:13,customValues:[9,10,11,12,13,14,15,16]}},
  {min:0,max:0.4,interval:0.1,axisLabel:{...tf,margin:9,padding:[6,0,0,0]}});

const a6=kmPanel(P.p6,{xr:[0.05,7.2],bold:'normal',nf:38,lf:38,xg:69,yg:44,xm:15,ym:10,yp:2,frame:'#555'});

series.push({type:'line',xAxisIndex:a1.x,yAxisIndex:a1.y,data:[],silent:true,
  markLine:{silent:true,animation:false,symbol:['none','arrow'],symbolSize:26,label:{show:false},lineStyle:{color:'#000',width:4.5,type:'solid'},
    data:[[{coord:[1.93,1.46]},{coord:[5.28,3.36]}]]}});
series.push({type:'line',xAxisIndex:a4.x,yAxisIndex:a4.y,showSymbol:false,symbol:'none',
  lineStyle:{color:'#000',width:1.5},silent:true,
  data:traceHundredths.map((v,i)=>[traceStart+i*traceStep,v/100]),
  markLine:{silent:true,animation:false,symbol:['none','arrow'],symbolSize:24,label:{show:false},lineStyle:{color:'#f00',width:5,type:'solid'},
    data:[[{coord:[8.73,-1.68]},{coord:[10.09,-1.68]}]]}});
series.push({type:'bar',xAxisIndex:a5.x,yAxisIndex:a5.y,barWidth:61.5,silent:true,
  itemStyle:{color:'#00008f',borderColor:'#000',borderWidth:1},
  data:barHours.map((h,i)=>[h,barShares[i]])});
const strokeGroups=[['grayThin',grayThin,'#808080'],['grayMid',grayMid,'#808080'],['grayThick',grayThick,'#808080'],['blackThin',blackThin,'#000'],['blackMid',blackMid,'#000'],['blackThick',blackThick,'#000']];
strokeGroups.forEach(([k,paths,color])=>paths.forEach(p=>series.push({type:'line',xAxisIndex:a6.x,yAxisIndex:a6.y,data:p,showSymbol:false,symbol:'none',silent:true,
  lineStyle:{color,width:strokeWidths[k],cap:'butt',join:'round'}})));

const T=(text,x,y,size,o={})=>({type:'text',z:100,x,y,silent:true,style:{text,fontFamily:F,fontSize:size,fontWeight:o.w||'normal',fill:o.c||'#000',align:o.a||'center',verticalAlign:'middle'}});
const graphic=[
 T('Surface pressure (Pa)',339,50,34,{w:'bold'}),
 T('Shear wind (m/s)',1087,50,33.5,{w:'bold'}),
 T('Electric field (kV/m)',1808,50,33.5,{w:'bold'}),
 T('Pressure fluctuation',391,732,40),
 T('Temporal distribution of fluctuations',1183,732,40),
 T('Dust devil paths',1945,733,38.5),
 T('Dust',154,474,37,{a:'left'}),
 T('Devil',152,521,37,{a:'left'}),
 T('Dust',289,1049,40,{c:'#f00'}),
 T('Devil',290,1095,40,{c:'#f00'}),
 T('Based on pressure',1116,841,39.6,{a:'left'}),
 T('drops > 1 Pa',1116,886,39.6,{a:'left'}),
 T('Gray > 1 Pa',1824,985,38,{a:'left'}),
 T('Black > 2 Pa',1824,1031,38,{a:'left'}),
];

echarts.init(document.getElementById('main')).setOption({
  animation:false,backgroundColor:'transparent',
  grid:grids,xAxis:xAxes,yAxis:yAxes,series,graphic,
  visualMap:{show:false,seriesIndex:cbSeries,min:0,max:63,dimension:2,inRange:{color:jetHex}}
});
</script>
</body></html>
